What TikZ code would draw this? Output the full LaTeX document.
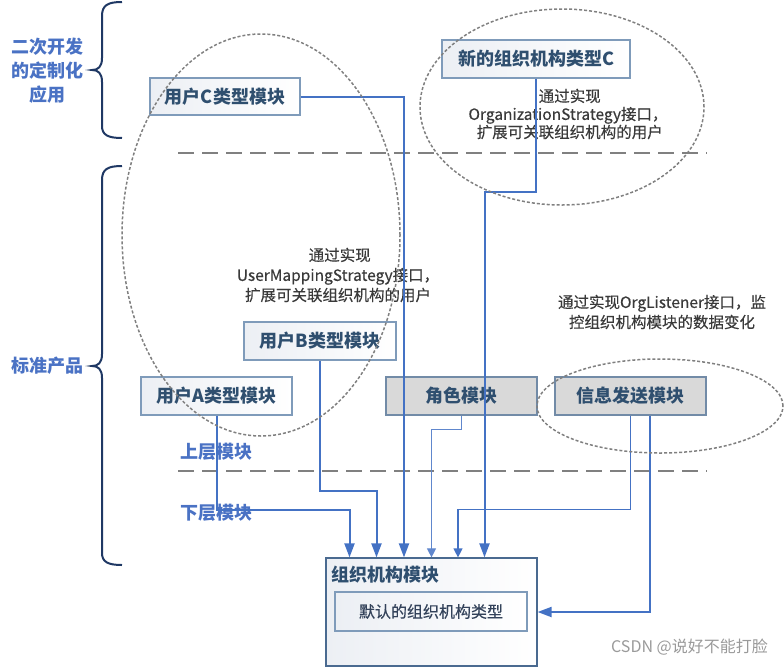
\documentclass[tikz,border=0pt]{standalone}
\usepackage{fontspec}
\setmainfont{Noto Sans CJK SC}
\newfontfamily\notefont[UprightFeatures={FakeBold=0.35}]{Noto Sans CJK SC}
\usetikzlibrary{arrows.meta}
\definecolor{lblue}{HTML}{4A72C4}
\definecolor{navy}{HTML}{1F3864}
\definecolor{cblue}{HTML}{4472C4}
\definecolor{btext}{HTML}{2F4F6F}
\definecolor{bborder}{HTML}{7F9BBA}
\definecolor{oborder}{HTML}{4A6A90}
\definecolor{atext}{HTML}{3A3A3A}
\definecolor{sepgrey}{HTML}{808080}
\definecolor{boxgrey}{HTML}{D9D9D9}
\definecolor{boxshade}{HTML}{ECEFF4}
\definecolor{deftext}{HTML}{33425A}
\definecolor{wmark}{HTML}{9A9A9A}
\tikzset{
  modbox/.style={draw=bborder, line width=1.2pt, left color=boxshade, right color=white,
    text=btext, font=\bfseries\fontsize{18}{20}\selectfont, inner sep=0pt},
  greybox/.style={modbox, left color=boxgrey, right color=boxgrey, draw=bborder!90!black},
  sidelabel/.style={text=lblue, font=\bfseries\fontsize{18}{24}\selectfont, align=center, inner sep=0pt},
  note/.style={text=atext, font=\notefont\fontsize{15.5}{20}\selectfont, align=center, inner sep=0pt},
  sepline/.style={draw=sepgrey, line width=2pt, dash pattern=on 16pt off 8pt},
  dotell/.style={draw=sepgrey, line width=1.5pt, dash pattern=on 3pt off 2pt},
  bracepath/.style={draw=navy, line width=2pt},
  conn/.style={draw=cblue, line width=2pt, -{Triangle[length=14pt,width=10pt]}},
  thinconn/.style={draw=cblue, line width=1.2pt, -{Triangle[length=9pt,width=9pt]}},
}
\begin{document}
\begin{tikzpicture}[x=1pt,y=-1pt]
\useasboundingbox (0,0) rectangle (784,667);
% braces
\draw[bracepath] (122,2) .. controls (108,2) and (102,5) .. (102,16) -- (102,58)
  .. controls (102,67) and (98,70) .. (92,70) .. controls (98,70) and (102,73) .. (102,82)
  -- (102,126) .. controls (102,135) and (108,138) .. (122,138);
\draw[bracepath] (122,166) .. controls (108,166) and (102,169) .. (102,180) -- (102,354)
  .. controls (102,363) and (98,366) .. (92,366) .. controls (98,366) and (102,369) .. (102,378)
  -- (102,553) .. controls (102,562) and (108,565) .. (122,565);
% side labels
\node[sidelabel] (dev) at (47,71) {二次开发\\的定制化\\应用};
\node[sidelabel] (std) at (47,366) {标准产品};
\node[sidelabel] (upper) at (216.5,452) {上层模块};
\node[sidelabel] (lower) at (216.5,513) {下层模块};
% separators
\draw[sepline] (178,153) -- (707,153);
\draw[sepline] (178,471) -- (707,471);
% boxes
\node[modbox, minimum width=150pt, minimum height=37pt] (uc) at (225,96.5) {用户C类型模块};
\node[modbox, minimum width=188pt, minimum height=38pt] (nc) at (536,59) {新的组织机构类型C};
\node[modbox, minimum width=152pt, minimum height=38pt] (ub) at (320,341) {用户B类型模块};
\node[modbox, minimum width=151pt, minimum height=38pt] (ua) at (216.5,396) {用户A类型模块};
\node[greybox, minimum width=151pt, minimum height=38pt] (rc) at (461.5,396) {角色模块};
\node[greybox, minimum width=151pt, minimum height=38pt] (xx) at (630.5,396) {信息发送模块};
\node[modbox, draw=oborder, minimum width=211pt, minimum height=108pt] (org) at (431.5,612) {};
\node[text=btext, font=\bfseries\fontsize{18}{20}\selectfont, anchor=west, inner sep=0pt] (orgt) at (331,575) {组织机构模块};
\node[modbox, minimum width=192pt, minimum height=39pt, text=deftext, font=\notefont\fontsize{16}{18}\selectfont] (def) at (431,611.5) {默认的组织机构类型};
% notes
\node[note, font=\notefont\fontsize{15.5}{18}\selectfont] (n1) at (568,114) {\ 通过实现\\OrganizationStrategy接口，\\\ 扩展可关联组织机构的用户};
\node[note] (n2) at (338,275) {\ 通过实现\\UserMappingStrategy接口，\\扩展可关联组织机构的用户};
\node[note] (n3) at (662,312) {通过实现OrgListener接口，监\\控组织机构模块的数据变化};
% connectors
\draw[conn] (ua.south) -- ++(0,94) -| ([xshift=-82pt]org.north);
\draw[conn] (ub.south) -- ++(0,130) -| ([xshift=-55pt]org.north);
\draw[conn] (uc.east) -| ([xshift=-27.5pt]org.north);
\draw[thinconn, line width=1.1pt, draw=cblue!85] (rc.south) -- ++(0,14) -| (org.north);
\draw[thinconn] (xx.south) -- ++(0,94) -| ([xshift=26.5pt]org.north);
\draw[conn] (nc.south) -- ++(0,113) -| ([xshift=53pt]org.north);
\draw[conn] ([xshift=19.5pt]xx.south) |- (org.east);
% ellipses
\draw[dotell] (261,235) ellipse [x radius=139pt, y radius=201pt];
\draw[dotell] (562,107) ellipse [x radius=142pt, y radius=98pt];
\draw[dotell] (660,406) ellipse [x radius=123pt, y radius=47pt];
% watermark
\node[text=wmark, font=\fontsize{16}{18}\selectfont, anchor=east, inner sep=0pt] (wm) at (768,647) {CSDN @说好不能打脸};
\end{tikzpicture}
\end{document}
